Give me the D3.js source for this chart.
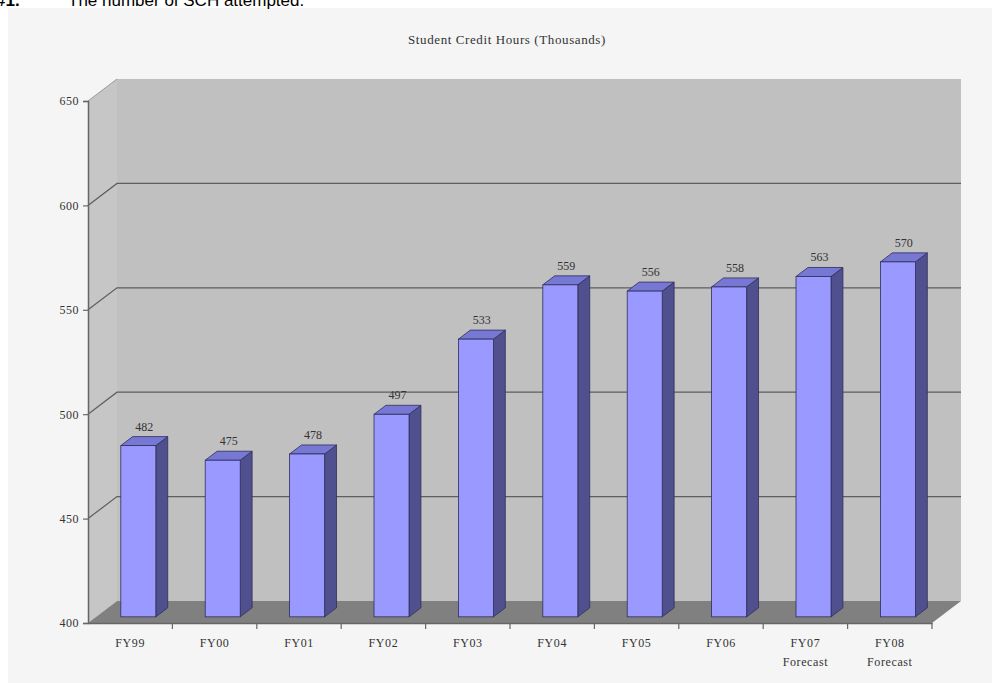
<!DOCTYPE html>
<html>
<head>
<meta charset="utf-8">
<script src="https://cdn.jsdelivr.net/npm/d3@7"></script>
<style>
  body { margin: 0; background: #fff; }
  svg { display: block; }
</style>
</head>
<body>
<div id="chart"></div>
<script>
// chart data
const categories = ['FY99', 'FY00', 'FY01', 'FY02', 'FY03', 'FY04', 'FY05', 'FY06', 'FY07\nForecast', 'FY08\nForecast'];
const values = [482, 475, 478, 497, 533, 559, 556, 558, 563, 570];
const yTicks = [400, 450, 500, 550, 600, 650];
const title = 'Student Credit Hours (Thousands)';

const width = 992, height = 683;
const serif = 'Liberation Serif, Times New Roman, serif';

const svg = d3.select('#chart')
  .append('svg')
  .attr('width', width)
  .attr('height', height);

// light panel behind the chart
svg.append('rect')
  .attr('x', 8).attr('y', 8)
  .attr('width', width - 8).attr('height', height - 8)
  .attr('fill', '#f5f5f5');

// clipped heading from the surrounding document
svg.append('text')
  .attr('x', -4).attr('y', 6)
  .style('font-family', 'Liberation Sans, Arial, sans-serif')
  .style('font-size', '17px')
  .style('font-weight', 'bold')
  .attr('fill', '#000')
  .text('#1.');
svg.append('text')
  .attr('x', 68).attr('y', 6)
  .style('font-family', 'Liberation Sans, Arial, sans-serif')
  .style('font-size', '17px')
  .attr('fill', '#000')
  .text('The number of SCH attempted.');

// scales (front plane)
const x = d3.scaleBand()
  .domain(categories)
  .range([88, 932])
  .paddingInner(0)
  .paddingOuter(0);

const y = d3.scaleLinear()
  .domain([400, 650])
  .range([623, 101]);

// depth of the 3d box
const dx = 29, dy = -22;
const x0 = x.range()[0], x1 = x.range()[1];
const yBot = y(400), yTop = y(650);

// back wall
svg.append('rect')
  .attr('x', x0 + dx).attr('y', yTop + dy)
  .attr('width', x1 - x0).attr('height', yBot - yTop)
  .attr('fill', '#c0c0c0');

// left side wall
svg.append('path')
  .attr('d', `M${x0},${yBot} L${x0},${yTop} L${x0 + dx},${yTop + dy} L${x0 + dx},${yBot + dy} Z`)
  .attr('fill', '#c6c6c6');

// floor
svg.append('path')
  .attr('d', `M${x0},${yBot} L${x1},${yBot} L${x1 + dx},${yBot + dy} L${x0 + dx},${yBot + dy} Z`)
  .attr('fill', '#808080');

// gridlines on side wall and back wall
const grid = yTicks.filter(d => d > 400 && d < 650);
svg.append('g')
  .selectAll('path')
  .data(grid)
  .join('path')
  .attr('d', d => `M${x0},${y(d)} L${x0 + dx},${y(d) + dy} L${x1 + dx},${y(d) + dy}`)
  .attr('fill', 'none')
  .attr('stroke', '#5e5e5e')
  .attr('stroke-width', 1.2);

// top edge of the side wall
svg.append('path')
  .attr('d', `M${x0},${yTop} L${x0 + dx},${yTop + dy}`)
  .attr('stroke', '#9a9a9a')
  .attr('stroke-width', 1);

// bars
const f0 = 0.28, f1 = 0.69;
const bw = x.bandwidth() * 0.415;
const bars = svg.append('g')
  .selectAll('g')
  .data(categories.map((c, i) => ({ c, v: values[i] })))
  .join('g');

const fx = d => x(d.c) + (x.bandwidth() - bw) / 2 + dx * f0;
const fyTop = d => y(d.v) + dy * f0;
const fyBot = () => y(400) + dy * f0;
const ddx = dx * (f1 - f0), ddy = dy * (f1 - f0);

// side face
bars.append('path')
  .attr('d', d => {
    const xr = fx(d) + bw;
    return `M${xr},${fyTop(d)} L${xr + ddx},${fyTop(d) + ddy} L${xr + ddx},${fyBot() + ddy} L${xr},${fyBot()} Z`;
  })
  .attr('fill', '#50508f')
  .attr('stroke', '#2e2e5a')
  .attr('stroke-width', 0.8);

// top face
bars.append('path')
  .attr('d', d => {
    const xl = fx(d), t = fyTop(d);
    return `M${xl},${t} L${xl + ddx},${t + ddy} L${xl + bw + ddx},${t + ddy} L${xl + bw},${t} Z`;
  })
  .attr('fill', '#7777d4')
  .attr('stroke', '#2e2e5a')
  .attr('stroke-width', 0.8);

// front face
bars.append('rect')
  .attr('x', fx)
  .attr('y', fyTop)
  .attr('width', bw)
  .attr('height', d => fyBot() - fyTop(d))
  .attr('fill', '#9999ff')
  .attr('stroke', '#2e2e5a')
  .attr('stroke-width', 0.8);

// value labels
bars.append('text')
  .attr('x', d => fx(d) + bw / 2 + ddx / 2)
  .attr('y', d => fyTop(d) - 15)
  .attr('text-anchor', 'middle')
  .style('font-family', serif)
  .style('font-size', '12px')
  .attr('fill', '#333')
  .text(d => d.v);

// y axis
const yAxis = d3.axisLeft(y)
  .tickValues(yTicks)
  .tickSize(5)
  .tickPadding(4);
const gy = svg.append('g')
  .attr('transform', `translate(${x0},0)`)
  .call(yAxis);
gy.select('.domain').attr('stroke', '#666').attr('stroke-width', 1.5);
gy.selectAll('.tick line').attr('stroke', '#666').attr('stroke-width', 1.2);
gy.selectAll('.tick text')
  .style('font-family', serif)
  .style('font-size', '12px')
  .style('letter-spacing', '0.5px')
  .attr('fill', '#333');

// x axis
const xAxis = d3.axisBottom(x).tickSize(0).tickFormat('');
const gx = svg.append('g')
  .attr('transform', `translate(0,${yBot})`)
  .call(xAxis);
gx.select('.domain').attr('stroke', '#666').attr('stroke-width', 1.5);

// category boundary ticks
svg.append('g')
  .selectAll('line')
  .data(categories)
  .join('line')
  .attr('x1', (d, i) => x0 + x.step() * (i + 1))
  .attr('x2', (d, i) => x0 + x.step() * (i + 1))
  .attr('y1', yBot)
  .attr('y2', yBot + 6)
  .attr('stroke', '#666')
  .attr('stroke-width', 1.2);

// category labels (two lines for forecasts)
const xl = svg.append('g')
  .selectAll('text')
  .data(categories)
  .join('text')
  .attr('x', d => x(d) + x.bandwidth() / 2)
  .attr('y', yBot + 24)
  .attr('text-anchor', 'middle')
  .style('font-family', serif)
  .style('font-size', '12px')
  .style('letter-spacing', '0.6px')
  .attr('fill', '#333');
xl.selectAll('tspan')
  .data(d => d.split('\n'))
  .join('tspan')
  .attr('x', function () { return d3.select(this.parentNode).attr('x'); })
  .attr('dy', (d, i) => i === 0 ? 0 : 19)
  .text(d => d);

// chart title
svg.append('text')
  .attr('x', 507)
  .attr('y', 44)
  .attr('text-anchor', 'middle')
  .style('font-family', serif)
  .style('font-size', '13px')
  .style('letter-spacing', '0.6px')
  .attr('fill', '#333')
  .text(title);
</script>
</body>
</html>
